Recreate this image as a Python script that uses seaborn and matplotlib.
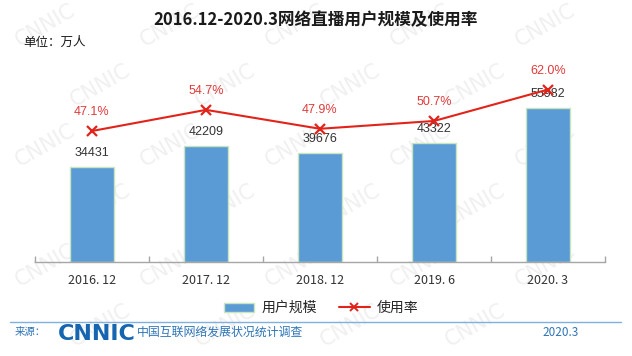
import numpy as np
import seaborn as sns
import matplotlib.pyplot as plt
from matplotlib.patches import Patch
from matplotlib.lines import Line2D

# data
periods = ['2016. 12', '2017. 12', '2018. 12', '2019. 6', '2020. 3']
users = [34431, 42209, 39676, 43322, 55982]      # 万人
rates = [47.1, 54.7, 47.9, 50.7, 62.0]           # %

title = '2016.12-2020.3网络直播用户规模及使用率'
legend_labels = ['用户规模', '使用率']

BAR = '#5b9bd5'
RED = '#e2231a'
BLUE = '#2e75b6'

sns.set_theme(style='white')
plt.rcParams['font.family'] = ['Noto Sans CJK SC', 'DejaVu Sans']

fig = plt.figure(figsize=(6.32, 3.56), dpi=100)
fig.patch.set_facecolor('white')

# faint CNNIC watermark on a background axes
bg = fig.add_axes([0, 0, 1, 1], zorder=-10)
bg.set_axis_off()
bg.set_xlim(0, 632)
bg.set_ylim(356, 0)
for row in range(6):
    for col in range(5):
        x = 45 + col * 125 + (row % 2) * 55
        y = 25 + row * 60
        if x > 590:
            continue
        bg.text(x, y, 'CNNIC', fontsize=15, color='#f0f0f0', rotation=30,
                ha='center', va='center', family='DejaVu Sans')

ax = fig.add_axes([35 / 632, 1 - 262 / 356, 570 / 632, 220 / 356])
ax.patch.set_alpha(0)

sns.barplot(x=periods, y=users, color=BAR, saturation=1, width=0.386,
            edgecolor='#c8e5bf', linewidth=1, ax=ax)
ax.set_ylim(0, 80000)
ax.set_xlim(-0.5, len(periods) - 0.5)

for i, v in enumerate(users):
    ax.annotate(str(v), (i, v), xytext=(0, 10), textcoords='offset points',
                ha='center', va='center', fontsize=9, color='#333333',
                family='Liberation Sans')

ax2 = ax.twinx()
sns.lineplot(x=np.arange(len(periods)), y=rates, ax=ax2, color=RED,
             marker='x', markersize=7, markeredgewidth=1.6, markeredgecolor=RED,
             linewidth=1.5)
ax2.set_ylim(0, 79.1)
for i, r in enumerate(rates):
    ax2.annotate(f'{r:.1f}%', (i, r), xytext=(0, 13.5), textcoords='offset points',
                 ha='center', va='center', fontsize=9, color='#e03a3a',
                 family='Liberation Sans')

for a in (ax, ax2):
    for s in ['top', 'right', 'left']:
        a.spines[s].set_visible(False)
    a.set_yticks([])
    a.set_ylabel('')
    a.set_xlabel('')
ax2.spines['bottom'].set_visible(False)
ax.spines['bottom'].set_color('#a6a6a6')
ax.spines['bottom'].set_linewidth(1)

ax.set_xticks(range(len(periods)))
ax.set_xticklabels(periods, fontsize=9, color='#333333')
ax.tick_params(axis='x', which='major', length=0, pad=9)
ax.set_xticks(np.arange(-0.5, len(periods)), minor=True)
ax.tick_params(axis='x', which='minor', direction='in', length=4, width=1,
               color='#a6a6a6', bottom=True)

# titles
fig.text(0.5, 1 - 20 / 356, title, ha='center', va='center', fontsize=12,
         fontweight='bold', color='#1a1a1a')
fig.text(23 / 632, 1 - 42 / 356, '单位：万人', ha='left', va='center',
         fontsize=9, color='#1a1a1a')

# legend
handles = [Patch(facecolor=BAR, edgecolor='#c8e5bf'),
           Line2D([], [], color=RED, marker='x', markersize=6, linewidth=1.5,
                  markeredgewidth=1.4)]
fig.legend(handles, legend_labels, loc='center', bbox_to_anchor=(0.508, 1 - 308 / 356),
           ncol=2, frameon=False, fontsize=10, handlelength=2.2, handleheight=0.6,
           handletextpad=0.5, columnspacing=1.6)

# footer
fig.add_artist(Line2D([10 / 632, 621 / 632], [1 - 322 / 356] * 2,
                      transform=fig.transFigure, color='#7fb0e0', linewidth=1))
fig.text(15 / 632, 1 - 332 / 356, '来源：', ha='left', va='center',
         fontsize=7.5, color=BLUE)
fig.text(58 / 632, 1 - 334 / 356, 'CNNIC', ha='left', va='center', fontsize=16,
         fontweight='heavy', color='#1565b0', family='DejaVu Sans')
fig.text(137 / 632, 1 - 332 / 356, '中国互联网络发展状况统计调查', ha='left',
         va='center', fontsize=8.6, color=BLUE)
fig.text(542 / 632, 1 - 332 / 356, '2020.3', ha='left', va='center',
         fontsize=8.5, color=BLUE)

fig.savefig('out.png', dpi=100)
